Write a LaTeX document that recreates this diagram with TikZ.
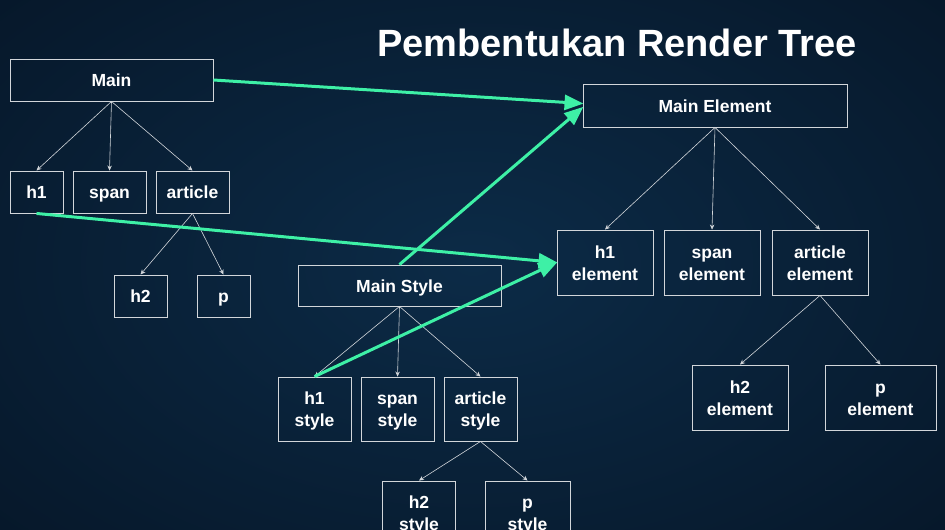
\documentclass[tikz,border=0pt]{standalone}
\usepackage{fontspec}
\setmainfont{Liberation Sans}
\usetikzlibrary{arrows.meta}
\definecolor{bgout}{HTML}{061729}
\definecolor{bgin}{HTML}{0C2B47}
\definecolor{boxline}{HTML}{D2D6DA}
\definecolor{link}{HTML}{3EF0A6}
\newcommand{\st}{\rule[-4.4pt]{0pt}{22pt}}
\tikzset{
  box/.style={draw=boxline, line width=0.9pt, rectangle, text=white, align=center,
    font=\bfseries\fontsize{17.5}{22}\selectfont, inner sep=0pt},
  treearrow/.style={draw=boxline, line width=0.6pt, -{Stealth[length=5pt,width=4.5pt]}},
  linkarrow/.style={draw=link, line width=3pt, -{Triangle[length=19pt,width=15pt]}, shorten >=-1pt},
}
\begin{document}
\begin{tikzpicture}[x=1pt,y=-1pt]
\useasboundingbox (0,0) rectangle (945,530);
\clip (0,0) rectangle (945,530);
\shade[inner color=bgin, outer color=bgout] (-200,-150) rectangle (1145,680);
% title
\node[text=white, font=\bfseries\fontsize{38}{42}\selectfont] (title) at (617,43) {Pembentukan Render Tree};
% DOM tree
\node[box, minimum width=203pt, minimum height=42pt] (main) at (111.5,80) {\st Main};
\node[box, minimum width=53pt, minimum height=42pt] (h1) at (36.5,192) {\st h1};
\node[box, minimum width=73pt, minimum height=42pt] (span) at (109.5,192) {\st span};
\node[box, minimum width=73pt, minimum height=42pt] (article) at (192.5,192) {\st article};
\node[box, minimum width=53pt, minimum height=42pt] (h2) at (140.5,296) {\st h2};
\node[box, minimum width=53pt, minimum height=42pt] (p) at (223.5,296) {\st p};
% style tree
\node[box, minimum width=203pt, minimum height=41pt] (mstyle) at (399.5,285.5) {\st Main Style};
\node[box, minimum width=73pt, minimum height=64pt] (h1s) at (314.5,409) {\st h1\\\st style};
\node[box, minimum width=73pt, minimum height=64pt] (spans) at (397.5,409) {\st span\\\st style};
\node[box, minimum width=73pt, minimum height=64pt] (arts) at (480.5,409) {\st article\\\st style};
\node[box, minimum width=73pt, minimum height=64pt] (h2s) at (419,513) {\st h2\\\st style};
\node[box, minimum width=85pt, minimum height=64pt] (ps) at (527.5,513) {\st p\\\st style};
% render tree
\node[box, minimum width=264pt, minimum height=43pt] (mel) at (715,105.5) {\st Main Element};
\node[box, minimum width=96pt, minimum height=65pt] (h1e) at (605,262.5) {\st h1\\\st element};
\node[box, minimum width=96pt, minimum height=65pt] (spane) at (712,262.5) {\st span\\\st element};
\node[box, minimum width=96pt, minimum height=65pt] (arte) at (820,262.5) {\st article\\\st element};
\node[box, minimum width=96pt, minimum height=65pt] (h2e) at (740,397.5) {\st h2\\\st element};
\node[box, minimum width=111pt, minimum height=65pt] (pe) at (880.5,397.5) {\st p\\\st element};
% tree arrows
\foreach \a/\b in {main/h1, main/span, main/article, article/h2, article/p,
  mstyle/h1s, mstyle/spans, mstyle/arts, arts/h2s, arts/ps,
  mel/h1e, mel/spane, mel/arte, arte/h2e, arte/pe}
  \draw[treearrow] (\a.south) -- (\b.north);
% link arrows
\coordinate (melA) at ([yshift=2pt]mel.west);
\coordinate (melB) at ([yshift=-2pt]mel.west);
\draw[linkarrow] (main.east) -- (melA);
\draw[linkarrow] (mstyle.north) -- (melB);
\draw[linkarrow] (h1.south) -- (h1e.west);
\draw[linkarrow] (h1s.north) -- (h1e.west);
\end{tikzpicture}
\end{document}
